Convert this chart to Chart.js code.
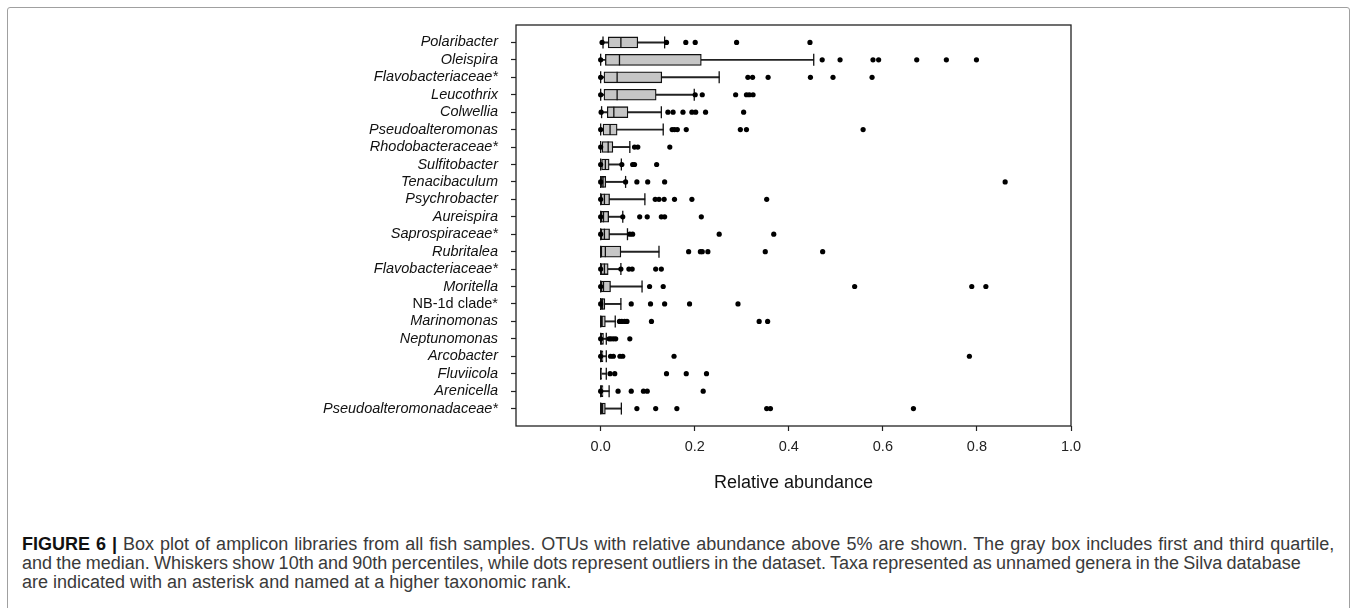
<!DOCTYPE html>
<html>
<head>
<meta charset="utf-8">
<script src="https://cdn.jsdelivr.net/npm/chart.js@4.4.0/dist/chart.umd.min.js"></script>
<style>
  html, body { margin: 0; padding: 0; background: #fff; }
  body { width: 1357px; height: 608px; position: relative; overflow: hidden; font-family: "Liberation Sans", Arial, sans-serif; }
  #border { position: absolute; left: 7px; top: 7px; width: 1341px; height: 640px; border: 1px solid #a0a0a0; border-radius: 3px; }
  #wrap { position: absolute; left: 0; top: 0; width: 1357px; height: 500px; }
  #caption { position: absolute; left: 22px; top: 535px; font-size: 18px; line-height: 19px; color: #3a3a3a; white-space: nowrap; }
  #caption b { color: #111; }
  #caption .l1 { word-spacing: 1px; }
  #caption .l2 { word-spacing: -0.7px; }
</style>
</head>
<body>
<div id="border"></div>
<div id="wrap"><canvas id="boxChart" width="1357" height="500"></canvas></div>
<div id="caption"><span class="l1"><b>FIGURE 6 |</b> Box plot of amplicon libraries from all fish samples. OTUs with relative abundance above 5% are shown. The gray box includes first and third quartile,</span><br><span class="l2">and the median. Whiskers show 10th and 90th percentiles, while dots represent outliers in the dataset. Taxa represented as unnamed genera in the Silva database</span><br>are indicated with an asterisk and named at a higher taxonomic rank.</div>
<script>
// taxa, top to bottom
const taxa = ["Polaribacter", "Oleispira", "Flavobacteriaceae*", "Leucothrix", "Colwellia", "Pseudoalteromonas",
  "Rhodobacteraceae*", "Sulfitobacter", "Tenacibaculum", "Psychrobacter", "Aureispira", "Saprospiraceae*",
  "Rubritalea", "Flavobacteriaceae*", "Moritella", "NB-1d clade*", "Marinomonas", "Neptunomonas",
  "Arcobacter", "Fluviicola", "Arenicella", "Pseudoalteromonadaceae*"];
const uprightTaxa = ["NB-1d clade*"];

// 10th percentile, quartiles, median, 90th percentile
const whiskerLow = [0.005, 0, 0, 0, 0.002, 0, 0, 0, 0, 0, 0, 0, 0, 0, 0, 0, 0, 0, 0, 0, 0, 0];
const q1 = [0.016, 0.010, 0.007, 0.007, 0.014, 0.005, 0.003, 0.002, 0.0015, 0.001, 0.001, 0.001,
  0.001, 0.001, 0.001, 0, 0, 0, 0, 0, 0, 0];
const median = [0.043, 0.040, 0.035, 0.035, 0.028, 0.020, 0.016, 0.010, 0.005, 0.008, 0.006, 0.008,
  0.010, 0.008, 0.006, 0.004, 0.003, 0.002, 0.002, 0.0, 0.002, 0.004];
const q3 = [0.079, 0.214, 0.130, 0.118, 0.058, 0.035, 0.026, 0.018, 0.011, 0.019, 0.017, 0.019,
  0.043, 0.016, 0.021, 0.009, 0.010, 0.006, 0.005, 0.002, 0.005, 0.010];
const whiskerHigh = [0.136, 0.453, 0.252, 0.199, 0.129, 0.133, 0.062, 0.044, 0.053, 0.094, 0.047, 0.057,
  0.124, 0.043, 0.088, 0.043, 0.031, 0.012, 0.012, 0.012, 0.018, 0.044];
const outliers = [
  [0.003, 0.14, 0.181, 0.201, 0.289, 0.445],
  [0.0, 0.471, 0.509, 0.579, 0.591, 0.672, 0.735, 0.799],
  [0.0, 0.313, 0.323, 0.356, 0.446, 0.494, 0.577],
  [0.0, 0.201, 0.216, 0.287, 0.31, 0.316, 0.324],
  [0.001, 0.143, 0.154, 0.175, 0.194, 0.202, 0.223, 0.304],
  [0.0, 0.152, 0.157, 0.163, 0.182, 0.297, 0.31, 0.558],
  [0.0, 0.072, 0.079, 0.147],
  [0.0, 0.045, 0.068, 0.072, 0.119],
  [0.0, 0.053, 0.077, 0.1, 0.136, 0.86],
  [0.0, 0.116, 0.124, 0.135, 0.157, 0.194, 0.353],
  [0.0, 0.047, 0.083, 0.099, 0.129, 0.136, 0.214],
  [0.0, 0.062, 0.068, 0.252, 0.368],
  [0.187, 0.212, 0.216, 0.228, 0.35, 0.472],
  [0.0, 0.043, 0.06, 0.067, 0.117, 0.129],
  [0.0, 0.104, 0.133, 0.54, 0.789, 0.819],
  [0.0, 0.065, 0.106, 0.136, 0.189, 0.292],
  [0.04, 0.045, 0.051, 0.056, 0.108, 0.337, 0.355],
  [0.0, 0.018, 0.022, 0.027, 0.032, 0.062],
  [0.0, 0.021, 0.027, 0.041, 0.047, 0.156, 0.784],
  [0.02, 0.03, 0.14, 0.182, 0.225],
  [0.0, 0.037, 0.065, 0.091, 0.099, 0.218],
  [0.077, 0.117, 0.162, 0.353, 0.361, 0.665]
];
const xTicks = [0, 0.2, 0.4, 0.6, 0.8, 1.0];

const FONT = "'Liberation Sans', Arial, sans-serif";

// rows sit at 1..22 on a 0..23 axis (reversed)
const whiskerData = taxa.map((t, i) => ({ y: i + 1, x: [whiskerLow[i], whiskerHigh[i]] }));
const boxData = taxa.map((t, i) => ({ y: i + 1, x: [q1[i], q3[i]] }));
const medianData = taxa.map((t, i) => ({ x: median[i], y: i + 1 }));
const capData = taxa.flatMap((t, i) => [{ x: whiskerLow[i], y: i + 1 }, { x: whiskerHigh[i], y: i + 1 }]);
const outlierData = outliers.flatMap((arr, i) => arr.map(v => ({ x: v, y: i + 1 })));

function labelFont(ctx) {
  const name = ctx && ctx.tick ? taxa[ctx.tick.value - 1] : "";
  return { family: FONT, size: 14.5, style: uprightTaxa.includes(name) ? "normal" : "italic" };
}

// frame round the plot area
const framePlugin = {
  id: "frame",
  beforeDatasetsDraw(chart) {
    const { ctx, chartArea: a } = chart;
    ctx.save();
    ctx.strokeStyle = "#222";
    ctx.lineWidth = 1.3;
    ctx.strokeRect(a.left, a.top, a.right - a.left, a.bottom - a.top);
    ctx.restore();
  }
};

new Chart(document.getElementById("boxChart"), {
  type: "scatter",
  data: {
    datasets: [
      {
        type: "scatter", label: "outliers", data: outlierData, order: 0,
        pointStyle: "circle", pointRadius: 2.6, backgroundColor: "#000", borderWidth: 0
      },
      {
        type: "scatter", label: "median", data: medianData, order: 1,
        pointStyle: "line", rotation: 90, pointRadius: 5.5, borderColor: "#111", borderWidth: 1.3
      },
      {
        type: "scatter", label: "caps", data: capData, order: 2,
        pointStyle: "line", rotation: 90, pointRadius: 6, borderColor: "#111", borderWidth: 1.3
      },
      {
        type: "bar", label: "box", data: boxData, order: 3, indexAxis: "y", grouped: false,
        barThickness: 11, backgroundColor: "#c6c6c6", borderColor: "#111", borderWidth: 1.3, borderSkipped: false
      },
      {
        type: "bar", label: "whisker", data: whiskerData, order: 4, indexAxis: "y", grouped: false,
        barThickness: 1.3, backgroundColor: "#222", borderWidth: 0
      }
    ]
  },
  options: {
    responsive: false,
    animation: false,
    devicePixelRatio: 1,
    layout: { padding: { left: 0, right: 286, top: 25, bottom: 0 } },
    plugins: { legend: { display: false }, tooltip: { enabled: false } },
    scales: {
      x: {
        type: "linear", min: -0.18, max: 1.0, offset: false,
        afterBuildTicks: s => { s.ticks = xTicks.map(v => ({ value: v })); },
        afterFit: s => { s.height = 74; },
        border: { display: false },
        grid: { drawOnChartArea: false, offset: false, tickLength: 5, color: "#222", tickWidth: 1.2 },
        ticks: { color: "#222", padding: 7, font: { family: FONT, size: 14.5 }, callback: v => v.toFixed(1) },
        title: { display: true, text: "Relative abundance", color: "#111", font: { family: FONT, size: 18 }, padding: { top: 0, bottom: 6 } }
      },
      y: {
        type: "linear", min: 0, max: 23, reverse: true, offset: false,
        afterBuildTicks: s => { s.ticks = taxa.map((t, i) => ({ value: i + 1 })); },
        afterFit: s => { s.width = 516; },
        border: { display: false },
        grid: { drawOnChartArea: false, offset: false, tickLength: 5, color: "#222", tickWidth: 1.2 },
        ticks: {
          color: "#111", padding: 13, autoSkip: false,
          font: labelFont,
          callback: v => taxa[v - 1]
        }
      }
    }
  },
  plugins: [framePlugin]
});
</script>
</body>
</html>
